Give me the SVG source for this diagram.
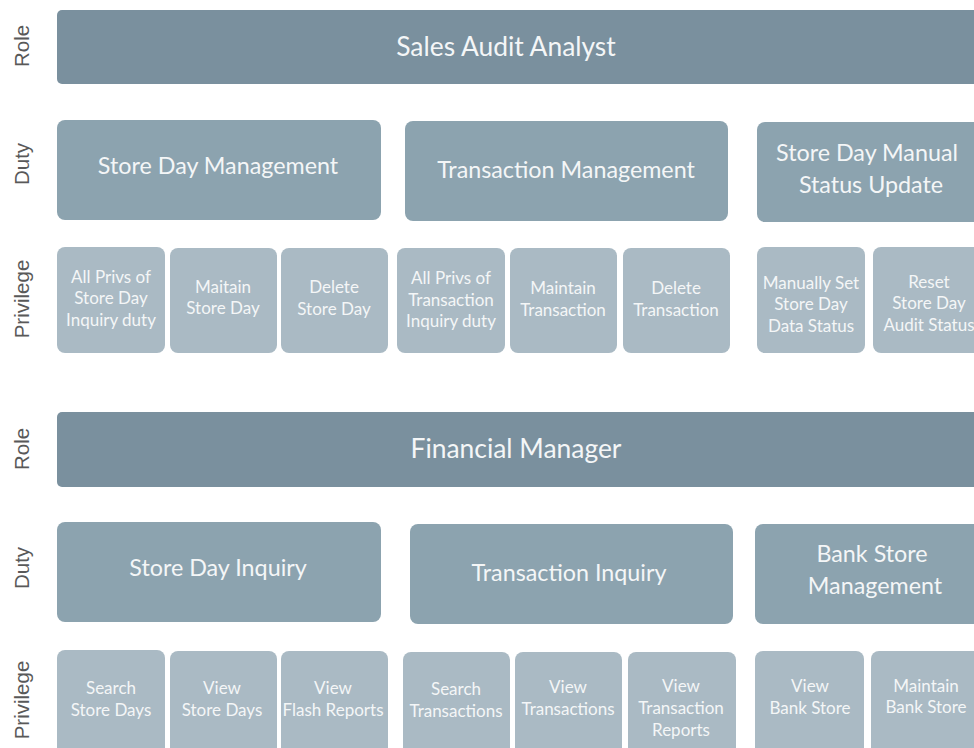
<svg xmlns="http://www.w3.org/2000/svg" width="974" height="748" viewBox="0 0 974 748">
<style>
.lbl{font-family:"Liberation Sans",Arial,sans-serif;font-size:20.5px;fill:#595959;text-anchor:middle}
.role{fill:#7a909e}
.duty{fill:#8ca3af}
.priv{fill:#aabac4}
.t{font-family:Lato,"Open Sans",sans-serif;fill:#f4f6f7;text-anchor:middle}
.tr{font-size:26.4px}
.td{font-size:23.3px}
.tp{font-size:17px}
</style>
<rect width="974" height="748" fill="#ffffff"/>
<g id="axis-labels">
<text class="lbl" transform="translate(29,46) rotate(-90)">Role</text>
<text class="lbl" transform="translate(29,164) rotate(-90)">Duty</text>
<text class="lbl" transform="translate(29,299) rotate(-90)">Privilege</text>
<text class="lbl" transform="translate(29,449) rotate(-90)">Role</text>
<text class="lbl" transform="translate(29,568) rotate(-90)">Duty</text>
<text class="lbl" transform="translate(29,700) rotate(-90)">Privilege</text>
</g>
<g id="role-sales-audit-analyst">
<rect class="role" x="57" y="10" width="940" height="74" rx="5"/>
<text class="t tr" x="506" y="56">Sales Audit Analyst</text>
</g>
<g id="duty-store-day-management">
<rect class="duty" x="57" y="120" width="324" height="100" rx="8"/>
<text class="t td" x="218" y="174">Store Day Management</text>
</g>
<g id="duty-transaction-management">
<rect class="duty" x="405" y="121" width="323" height="100" rx="8"/>
<text class="t td" x="566" y="178">Transaction Management</text>
</g>
<g id="duty-store-day-manual-status-update">
<rect class="duty" x="757" y="122" width="240" height="100" rx="8"/>
<text class="t td" x="867" y="161">Store Day Manual</text>
<text class="t td" x="871" y="193">Status Update</text>
</g>
<g id="priv-all-privs-store-day">
<rect class="priv" x="57" y="247" width="108" height="106" rx="8"/>
<text class="t tp" x="111" y="283">All Privs of</text>
<text class="t tp" x="111" y="304">Store Day</text>
<text class="t tp" x="111" y="326">Inquiry duty</text>
</g>
<g id="priv-maitain-store-day">
<rect class="priv" x="170" y="248" width="107" height="105" rx="8"/>
<text class="t tp" x="223" y="293">Maitain</text>
<text class="t tp" x="223" y="314">Store Day</text>
</g>
<g id="priv-delete-store-day">
<rect class="priv" x="281" y="248" width="107" height="105" rx="8"/>
<text class="t tp" x="334" y="293">Delete</text>
<text class="t tp" x="334" y="315">Store Day</text>
</g>
<g id="priv-all-privs-transaction">
<rect class="priv" x="397" y="248" width="108" height="105" rx="8"/>
<text class="t tp" x="451" y="284">All Privs of</text>
<text class="t tp" x="451" y="306">Transaction</text>
<text class="t tp" x="451" y="327">Inquiry duty</text>
</g>
<g id="priv-maintain-transaction">
<rect class="priv" x="510" y="248" width="107" height="105" rx="8"/>
<text class="t tp" x="563" y="294">Maintain</text>
<text class="t tp" x="563" y="316">Transaction</text>
</g>
<g id="priv-delete-transaction">
<rect class="priv" x="623" y="248" width="107" height="105" rx="8"/>
<text class="t tp" x="676" y="294">Delete</text>
<text class="t tp" x="676" y="316">Transaction</text>
</g>
<g id="priv-manually-set-store-day-data-status">
<rect class="priv" x="757" y="247" width="108" height="106" rx="8"/>
<text class="t tp" x="811" y="289">Manually Set</text>
<text class="t tp" x="811" y="310">Store Day</text>
<text class="t tp" x="811" y="332">Data Status</text>
</g>
<g id="priv-reset-store-day-audit-status">
<rect class="priv" x="873" y="247" width="120" height="106" rx="8"/>
<text class="t tp" x="929" y="288">Reset</text>
<text class="t tp" x="929" y="309">Store Day</text>
<text class="t tp" x="929" y="331">Audit Status</text>
</g>
<g id="role-financial-manager">
<rect class="role" x="57" y="412" width="940" height="75" rx="5"/>
<text class="t tr" x="516" y="458">Financial Manager</text>
</g>
<g id="duty-store-day-inquiry">
<rect class="duty" x="57" y="522" width="324" height="100" rx="8"/>
<text class="t td" x="218" y="576">Store Day Inquiry</text>
</g>
<g id="duty-transaction-inquiry">
<rect class="duty" x="410" y="524" width="323" height="100" rx="8"/>
<text class="t td" x="569" y="581">Transaction Inquiry</text>
</g>
<g id="duty-bank-store-management">
<rect class="duty" x="755" y="524" width="240" height="100" rx="8"/>
<text class="t td" x="872" y="562">Bank Store</text>
<text class="t td" x="875" y="594">Management</text>
</g>
<g id="priv-search-store-days">
<rect class="priv" x="57" y="650" width="108" height="110" rx="8"/>
<text class="t tp" x="111" y="694">Search</text>
<text class="t tp" x="111" y="716">Store Days</text>
</g>
<g id="priv-view-store-days">
<rect class="priv" x="170" y="651" width="107" height="110" rx="8"/>
<text class="t tp" x="222" y="694">View</text>
<text class="t tp" x="222" y="716">Store Days</text>
</g>
<g id="priv-view-flash-reports">
<rect class="priv" x="281" y="651" width="107" height="110" rx="8"/>
<text class="t tp" x="333" y="694">View</text>
<text class="t tp" x="333" y="716">Flash Reports</text>
</g>
<g id="priv-search-transactions">
<rect class="priv" x="403" y="652" width="107" height="110" rx="8"/>
<text class="t tp" x="456" y="695">Search</text>
<text class="t tp" x="456" y="717">Transactions</text>
</g>
<g id="priv-view-transactions">
<rect class="priv" x="515" y="652" width="107" height="110" rx="8"/>
<text class="t tp" x="568" y="693">View</text>
<text class="t tp" x="568" y="715">Transactions</text>
</g>
<g id="priv-view-transaction-reports">
<rect class="priv" x="628" y="652" width="108" height="110" rx="8"/>
<text class="t tp" x="681" y="692">View</text>
<text class="t tp" x="681" y="714">Transaction</text>
<text class="t tp" x="681" y="736">Reports</text>
</g>
<g id="priv-view-bank-store">
<rect class="priv" x="755" y="651" width="109" height="110" rx="8"/>
<text class="t tp" x="810" y="692">View</text>
<text class="t tp" x="810" y="714">Bank Store</text>
</g>
<g id="priv-maintain-bank-store">
<rect class="priv" x="871" y="651" width="120" height="110" rx="8"/>
<text class="t tp" x="926" y="692">Maintain</text>
<text class="t tp" x="926" y="713">Bank Store</text>
</g>
</svg>
